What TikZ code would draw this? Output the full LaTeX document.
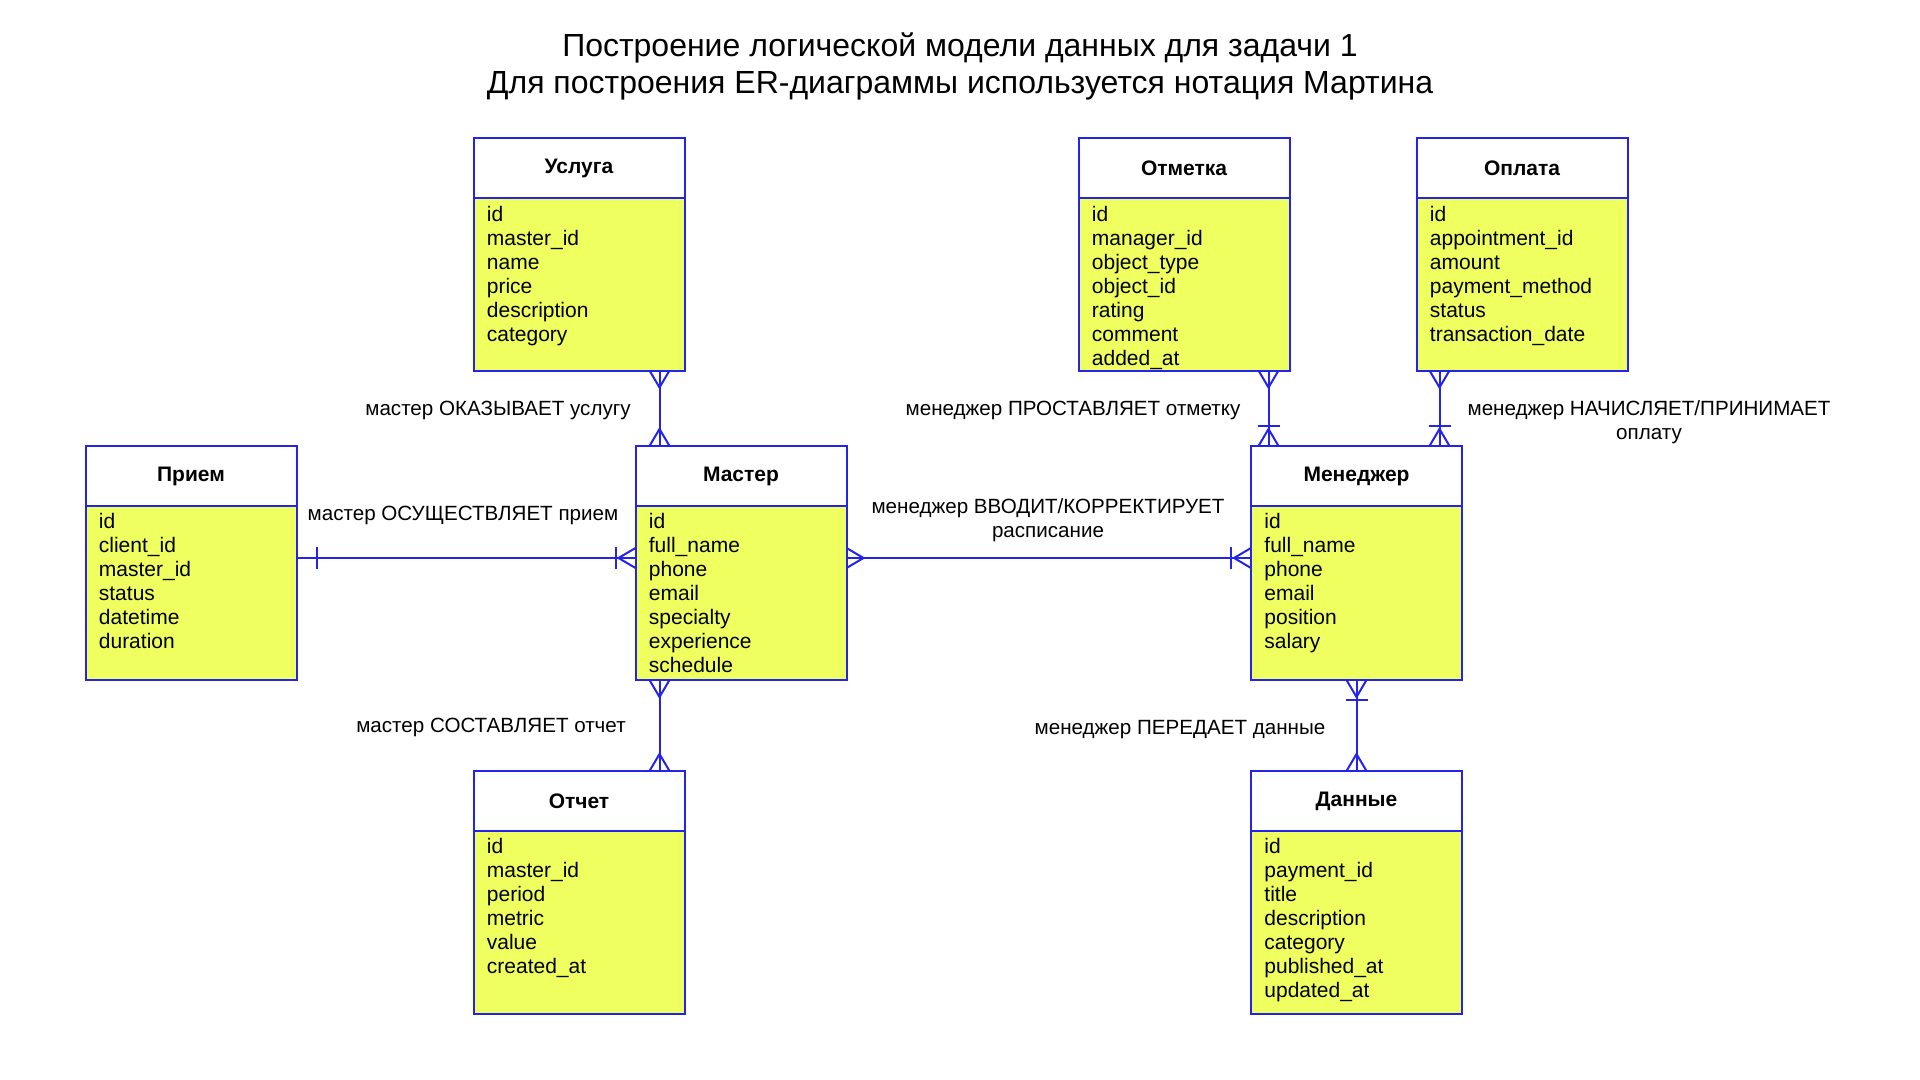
\documentclass[tikz,border=0pt]{standalone}
\usepackage{fontspec}
\setmainfont{Liberation Sans}
\usepackage{xcolor}
\usepackage{tikz}
\usetikzlibrary{positioning,calc}
\definecolor{erblue}{RGB}{35,35,235}
\definecolor{attryellow}{RGB}{240,255,96}

% crow's foot at end #1 of a line going to #2
\newcommand{\crowfoot}[2]{\draw[erline] ($(#1)!5pt!90:(#2)$) -- ($(#1)!8.5pt!(#2)$) -- ($(#1)!5pt!-90:(#2)$);}
% single bar near end #1
\newcommand{\onebar}[2]{\path ($(#1)!10pt!(#2)$) coordinate (bartmp);
  \draw[erline] ($(bartmp)!5.5pt!90:(#2)$) -- ($(bartmp)!5.5pt!-90:(#2)$);}

\begin{document}
\begin{tikzpicture}[x=0.5pt,y=-0.5pt,
    erline/.style={draw=erblue,line width=1pt},
    enthead/.style={draw=erblue,line width=1pt,fill=white,minimum width=105.5pt,minimum height=30pt,
      inner sep=0pt,outer sep=0pt,font=\bfseries\fontsize{10.5}{12}\selectfont},
    entbody/.style={draw=erblue,line width=1pt,fill=attryellow,minimum width=105.5pt,anchor=north,
      inner sep=0pt,outer sep=0pt},
    attrs/.style={anchor=north west,align=left,inner xsep=6.5pt,inner ysep=3.5pt,font=\fontsize{10.5}{12}\selectfont},
    rel/.style={align=center,font=\fontsize{10.3}{12}\selectfont}]
    \useasboundingbox[fill=white] (0,0) rectangle (1920,1080);

    \node[align=center,font=\fontsize{16}{18.5}\selectfont] (title) at (960,66)
      {Построение логической модели данных для задачи 1\\Для построения ER-диаграммы используется нотация Мартина};

    % entities
    \node[enthead] (usluga) at (579,168.5) {Услуга};
    \node[entbody,minimum height=86pt] (uslugaB) at (usluga.south) {};
    \node[attrs] (uslugaA) at (uslugaB.north west) {id\\master\_id\\name\\price\\description\\category};

    \node[enthead] (otmetka) at (1184,168.5) {Отметка};
    \node[entbody,minimum height=86pt] (otmetkaB) at (otmetka.south) {};
    \node[attrs] (otmetkaA) at (otmetkaB.north west) {id\\manager\_id\\object\_type\\object\_id\\rating\\comment\\added\_at};

    \node[enthead] (oplata) at (1522,168.5) {Оплата};
    \node[entbody,minimum height=86pt] (oplataB) at (oplata.south) {};
    \node[attrs] (oplataA) at (oplataB.north west) {id\\appointment\_id\\amount\\payment\_method\\status\\transaction\_date};

    \node[enthead] (priem) at (191,476) {Прием};
    \node[entbody,minimum height=87pt] (priemB) at (priem.south) {};
    \node[attrs] (priemA) at (priemB.north west) {id\\client\_id\\master\_id\\status\\datetime\\duration};

    \node[enthead] (master) at (741,476) {Мастер};
    \node[entbody,minimum height=87pt] (masterB) at (master.south) {};
    \node[attrs] (masterA) at (masterB.north west) {id\\full\_name\\phone\\email\\specialty\\experience\\schedule};

    \node[enthead] (manager) at (1356.5,476) {Менеджер};
    \node[entbody,minimum height=87pt] (managerB) at (manager.south) {};
    \node[attrs] (managerA) at (managerB.north west) {id\\full\_name\\phone\\email\\position\\salary};

    \node[enthead] (otchet) at (579,801) {Отчет};
    \node[entbody,minimum height=91.5pt] (otchetB) at (otchet.south) {};
    \node[attrs] (otchetA) at (otchetB.north west) {id\\master\_id\\period\\metric\\value\\created\_at};

    \node[enthead] (dannye) at (1356.5,801) {Данные};
    \node[entbody,minimum height=91.5pt] (dannyeB) at (dannye.south) {};
    \node[attrs] (dannyeA) at (dannyeB.north west) {id\\payment\_id\\title\\description\\category\\published\_at\\updated\_at};

    % connector ends
    \coordinate (u1) at ($(uslugaB.south west)+(186,0)$);
    \coordinate (u2) at (u1 |- master.north);
    \coordinate (p1) at ($(priemB.north east)+(0,52)$);
    \coordinate (p2) at (p1 -| master.west);
    \coordinate (m1) at (p1 -| master.east);
    \coordinate (m2) at (p1 -| manager.west);
    \coordinate (o1) at (u1 |- masterB.south);
    \coordinate (o2) at (u1 |- otchet.north);
    \coordinate (t1) at ($(otmetkaB.south west)+(190,0)$);
    \coordinate (t2) at (t1 |- manager.north);
    \coordinate (a1) at ($(oplataB.south west)+(23,0)$);
    \coordinate (a2) at (a1 |- manager.north);
    \coordinate (d1) at (managerB.south);
    \coordinate (d2) at (dannye.north);

    % relationships
    \draw[erline] (u1) -- (u2); \crowfoot{u1}{u2} \crowfoot{u2}{u1}
    \draw[erline] (p1) -- (p2); \onebar{p1}{p2} \onebar{p2}{p1} \crowfoot{p2}{p1}
    \draw[erline] (m1) -- (m2); \crowfoot{m1}{m2} \onebar{m2}{m1} \crowfoot{m2}{m1}
    \draw[erline] (o1) -- (o2); \crowfoot{o1}{o2} \crowfoot{o2}{o1}
    \draw[erline] (t1) -- (t2); \crowfoot{t1}{t2} \onebar{t2}{t1} \crowfoot{t2}{t1}
    \draw[erline] (a1) -- (a2); \crowfoot{a1}{a2} \onebar{a2}{a1} \crowfoot{a2}{a1}
    \draw[erline] (d1) -- (d2); \onebar{d1}{d2} \crowfoot{d1}{d2} \crowfoot{d2}{d1}

    % labels
    \node[rel] (l1) at (498,410.5) {мастер ОКАЗЫВАЕТ услугу};
    \node[rel] (l2) at (463,515.5) {мастер ОСУЩЕСТВЛЯЕТ прием};
    \node[rel] (l3) at (1048,520.5) {менеджер ВВОДИТ/КОРРЕКТИРУЕТ\\расписание};
    \node[rel] (l4) at (1073,410.5) {менеджер ПРОСТАВЛЯЕТ отметку};
    \node[rel] (l5) at (1649,422.5) {менеджер НАЧИСЛЯЕТ/ПРИНИМАЕТ\\оплату};
    \node[rel] (l6) at (491,727.5) {мастер СОСТАВЛЯЕТ отчет};
    \node[rel] (l7) at (1180,729.5) {менеджер ПЕРЕДАЕТ данные};
\end{tikzpicture}
\end{document}
